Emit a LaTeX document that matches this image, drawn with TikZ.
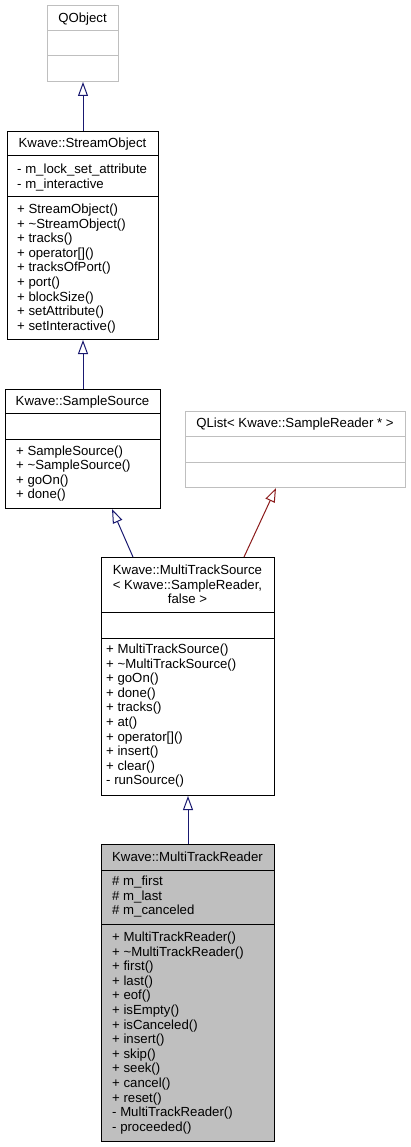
\documentclass[tikz,border=0pt]{standalone}
\usepackage{fontspec}
\setmainfont{Liberation Sans}
\usetikzlibrary{arrows.meta}

\definecolor{edgeblue}{HTML}{191970}
\definecolor{edgered}{HTML}{8B1A1A}
\definecolor{extgray}{HTML}{BFBFBF}

\begin{document}
\begin{tikzpicture}[x=1pt, y=-1pt,
        font=\fontsize{13.2}{14.6}\selectfont,
        cls/.style={draw, line width=1pt, anchor=north west, inner sep=0pt},
        extcls/.style={cls, draw=extgray},
        clsname/.style={anchor=base, align=center, inner sep=0pt},
        members/.style={anchor=base west, align=left, inner sep=0pt},
        inh/.style={draw=edgeblue, line width=1pt, -{Triangle[open, length=14pt, width=10pt]}},
        tmplinh/.style={inh, draw=edgered}]

    \useasboundingbox (0,0) rectangle (410,1147);

    % QOBJECT
    \node[extcls, minimum width=71pt, minimum height=76pt] (qobject) at (47,5) {};
    \draw[extgray, line width=1pt] (47,31) -- (118,31) (47,56) -- (118,56);
    \node[clsname] (qobjectname) at (82.5,22.5) {QObject};

    % STREAMOBJECT
    \node[cls, minimum width=151pt, minimum height=208pt] (streamobj) at (7,131) {};
    \draw[line width=1pt] (7,156) -- (158,156) (7,197) -- (158,197);
    \node[clsname] (streamobjname) at (82.5,147.5) {Kwave::StreamObject};
    % multi-line nodes sit on the baseline of their last line
    \node[members] (streamobjattr) at (17,188.1) {- m\_lock\_set\_attribute\\- m\_interactive};
    \node[members] (streamobjops) at (17,330.3) {+ StreamObject()\\+ \textasciitilde StreamObject()\\+ tracks()\\+ operator[]()\\+ tracksOfPort()\\+ port()\\+ blockSize()\\+ setAttribute()\\+ setInteractive()};

    % SAMPLESOURCE
    \node[cls, minimum width=155pt, minimum height=119pt] (samplesrc) at (5,389) {};
    \draw[line width=1pt] (5,413) -- (160,413) (5,439) -- (160,439);
    \node[clsname] (samplesrcname) at (82.5,405) {Kwave::SampleSource};
    \node[members] (samplesrcops) at (16,498.8) {+ SampleSource()\\+ \textasciitilde SampleSource()\\+ goOn()\\+ done()};

    % QLIST
    \node[extcls, minimum width=220pt, minimum height=76pt] (qlist) at (185,411) {};
    \draw[extgray, line width=1pt] (185,436) -- (405,436) (185,462) -- (405,462);
    \node[clsname] (qlistname) at (295,427) {QList< Kwave::SampleReader * >};

    % MULTITRACKSOURCE
    \node[cls, minimum width=173pt, minimum height=238pt] (mtsource) at (101,557) {};
    \draw[line width=1pt] (101,612) -- (274,612) (101,638) -- (274,638);
    \node[clsname] (mtsourcename) at (187.5,603.7) {Kwave::MultiTrackSource\\< Kwave::SampleReader,\\false >};
    \node[members] (mtsourceops) at (106,784.9) {+ MultiTrackSource()\\+ \textasciitilde MultiTrackSource()\\+ goOn()\\+ done()\\+ tracks()\\+ at()\\+ operator[]()\\+ insert()\\+ clear()\\- runSource()};

    % MULTITRACKREADER
    \node[cls, fill=extgray, minimum width=173pt, minimum height=297pt] (mtreader) at (101,844) {};
    \draw[line width=1pt] (101,870) -- (274,870) (101,924) -- (274,924);
    \node[clsname] (mtreadername) at (187.5,861.5) {Kwave::MultiTrackReader};
    \node[members] (mtreaderattr) at (112,914.7) {\# m\_first\\\# m\_last\\\# m\_canceled};
    \node[members] (mtreaderops) at (112,1131.3) {+ MultiTrackReader()\\+ \textasciitilde MultiTrackReader()\\+ first()\\+ last()\\+ eof()\\+ isEmpty()\\+ isCanceled()\\+ insert()\\+ skip()\\+ seek()\\+ cancel()\\+ reset()\\- MultiTrackReader()\\- proceeded()};

    % INHERITANCE
    \draw[inh] (streamobj.north -| qobject.south) -- (qobject.south);
    \draw[inh] (samplesrc.north -| streamobj.south) -- (streamobj.south);
    \draw[inh] ([xshift=32pt]mtsource.north west) -- ([xshift=107pt]samplesrc.south west);
    \draw[tmplinh] ([xshift=143pt]mtsource.north west) -- ([xshift=91pt]qlist.south west);
    \draw[inh] (mtreader.north) -- (mtsource.south);

\end{tikzpicture}
\end{document}
